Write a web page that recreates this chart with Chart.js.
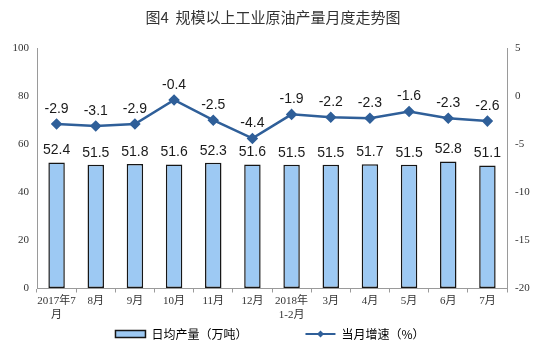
<!DOCTYPE html>
<html>
<head>
<meta charset="utf-8">
<script src="https://cdn.jsdelivr.net/npm/chart.js@4"></script>
<style>
  html, body { margin: 0; padding: 0; background: #fff; }
  #wrap { width: 546px; height: 352px; }
</style>
</head>
<body>
<div id="wrap"><canvas id="myChart" width="546" height="352"></canvas></div>
<script>
// 月份
const months = [['2017年7', '月'], '8月', '9月', '10月', '11月', '12月', ['2018年', '1-2月'], '3月', '4月', '5月', '6月', '7月'];
// 日均产量（万吨）
const dailyOutput = [52.4, 51.5, 51.8, 51.6, 52.3, 51.6, 51.5, 51.5, 51.7, 51.5, 52.8, 51.1];
// 当月增速（%）
const monthGrowth = [-2.9, -3.1, -2.9, -0.4, -2.5, -4.4, -1.9, -2.2, -2.3, -1.6, -2.3, -2.6];

const serif = '"Liberation Serif", "Noto Sans CJK SC", serif';
const sans = '"Liberation Sans", Arial, sans-serif';

// 数值标签 + 图例里的菱形
const labelPlugin = {
    id: 'valueLabels',
    afterDatasetsDraw(chart) {
        const ctx = chart.ctx;
        ctx.save();
        ctx.font = '14px ' + sans;
        ctx.fillStyle = '#1a1a1a';
        ctx.textAlign = 'center';
        ctx.textBaseline = 'bottom';
        chart.getDatasetMeta(0).data.forEach(function (bar, i) {
            ctx.fillText(dailyOutput[i].toFixed(1), bar.x, bar.y - 5);
        });
        chart.getDatasetMeta(1).data.forEach(function (pt, i) {
            ctx.fillText(monthGrowth[i].toFixed(1), pt.x, pt.y - 8);
        });
        ctx.restore();
    },
    afterDraw(chart) {
        const boxes = chart.legend && chart.legend.legendHitBoxes;
        if (!boxes || boxes.length < 2) return;
        const b = boxes[1];
        const ctx = chart.ctx;
        const cx = b.left + 15, cy = b.top + b.height / 2;
        ctx.save();
        ctx.fillStyle = '#2f5f99';
        ctx.beginPath();
        ctx.moveTo(cx, cy - 3.5);
        ctx.lineTo(cx + 3.5, cy);
        ctx.lineTo(cx, cy + 3.5);
        ctx.lineTo(cx - 3.5, cy);
        ctx.closePath();
        ctx.fill();
        ctx.restore();
    }
};

const ctx = document.getElementById('myChart').getContext('2d');
const chart = new Chart(ctx, {
    type: 'bar',
    data: {
        labels: months,
        datasets: [{
            type: 'bar',
            label: '日均产量（万吨）',
            data: dailyOutput,
            backgroundColor: '#9dc9f3',
            borderColor: '#161616',
            borderWidth: 1.5,
            borderSkipped: false,
            barPercentage: 0.42,
            categoryPercentage: 1,
            yAxisID: 'y',
            order: 2
        }, {
            type: 'line',
            label: '当月增速（%）',
            data: monthGrowth,
            borderColor: '#2f5f99',
            backgroundColor: '#2f5f99',
            borderWidth: 2.5,
            pointStyle: 'rectRot',
            pointRadius: 4,
            pointHoverRadius: 4,
            tension: 0,
            yAxisID: 'y1',
            order: 1
        }]
    },
    options: {
        responsive: false,
        animation: false,
        layout: { padding: { top: 0, left: 0, right: 0, bottom: 2 } },
        scales: {
            x: {
                offset: true,
                grid: { offset: true, drawOnChartArea: false, color: '#9a9a9a', tickLength: 4 },
                border: { color: '#9a9a9a' },
                ticks: { color: '#333', font: { family: serif, size: 11, lineHeight: 1.25 }, maxRotation: 0, autoSkip: false, padding: 2 }
            },
            y: {
                position: 'left',
                min: 0, max: 100,
                ticks: { stepSize: 20, color: '#333', font: { family: serif, size: 11 }, padding: 8 },
                grid: { drawOnChartArea: false, drawTicks: false },
                border: { color: '#9a9a9a' },
                afterFit(s) { s.width = 37; }
            },
            y1: {
                position: 'right',
                min: -20, max: 5,
                ticks: { stepSize: 5, color: '#333', font: { family: serif, size: 11 }, padding: 8 },
                grid: { drawOnChartArea: false, drawTicks: false },
                border: { color: '#9a9a9a' },
                afterFit(s) { s.width = 39; }
            }
        },
        plugins: {
            title: {
                display: true,
                text: '图4  规模以上工业原油产量月度走势图',
                color: '#333',
                font: { family: '"Noto Sans CJK SC", sans-serif', size: 15, weight: 'normal' },
                padding: { top: 8, bottom: 22 }
            },
            legend: {
                position: 'bottom',
                labels: {
                    usePointStyle: true,
                    pointStyleWidth: 30,
                    boxHeight: 7,
                    padding: 4,
                    color: '#333',
                    font: { family: '"Noto Sans CJK SC", sans-serif', size: 12 },
                    generateLabels(c) {
                        return [{
                            text: '日均产量（万吨）\u3000\u3000\u3000\u3000\u3000', fillStyle: '#9dc9f3', strokeStyle: '#161616',
                            lineWidth: 1.5, pointStyle: 'rect', datasetIndex: 0
                        }, {
                            text: '当月增速（%）\u3000', fillStyle: '#2f5f99', strokeStyle: '#2f5f99',
                            lineWidth: 2, pointStyle: 'line', datasetIndex: 1
                        }];
                    }
                }
            },
            tooltip: { enabled: false }
        }
    },
    plugins: [labelPlugin]
});
</script>
</body>
</html>
